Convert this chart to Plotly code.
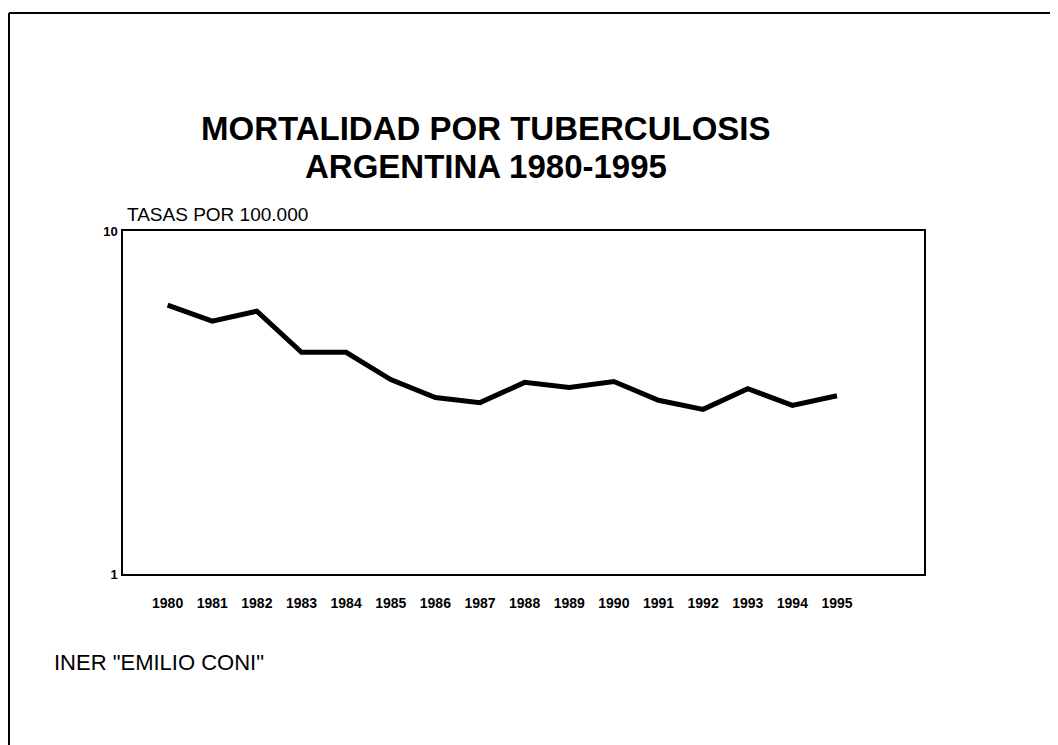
import plotly.graph_objects as go

years = [1980, 1981, 1982, 1983, 1984, 1985, 1986, 1987, 1988, 1989, 1990, 1991, 1992, 1993, 1994, 1995]
rates = [6.08, 5.46, 5.84, 4.43, 4.43, 3.69, 3.27, 3.16, 3.62, 3.50, 3.64, 3.21, 3.02, 3.47, 3.10, 3.31]
y_ticks = [1, 10]
y_tick_text = ["1", "10"]
title_lines = ["MORTALIDAD POR TUBERCULOSIS", "ARGENTINA 1980-1995"]
y_unit = "TASAS POR 100.000"
source = 'INER "EMILIO CONI"'

OFF = 8  # page body margin
W, H = 1050, 737
L, R, T, B = 123 - OFF, 924 - OFF, 231 - OFF, 574 - OFF

def px(x):
    return (x - OFF - L) / (R - L)

def py(y):
    return (B - (y - OFF)) / (B - T)

fig = go.Figure()
fig.add_trace(go.Scatter(x=years, y=rates, mode="lines",
                         line=dict(color="black", width=5), showlegend=False))

font = "Liberation Sans, Arial, sans-serif"

fig.update_layout(
    width=W, height=H,
    margin=dict(l=L, r=W - R, t=T, b=H - B, pad=0),
    paper_bgcolor="white", plot_bgcolor="white",
    font=dict(family=font, color="black"),
    xaxis=dict(range=[1979.0, 1996.95], tickvals=years, ticktext=[str(y) for y in years],
               tickfont=dict(size=14, family=font, weight="bold"),
               showgrid=False, zeroline=False, showline=True, linecolor="black",
               linewidth=1.5, mirror=True, ticks="", ticklabelstandoff=15),
    yaxis=dict(type="log", range=[0, 1], tickvals=y_ticks, ticktext=y_tick_text,
               tickfont=dict(size=13, family=font, weight="bold"),
               showgrid=False, zeroline=False, showline=True, linecolor="black",
               linewidth=1.5, mirror=True, ticks="", ticklabelstandoff=1),
    annotations=[
        dict(text="<b>" + title_lines[0] + "</b>",
             x=px(486), y=py(129), xref="paper", yref="paper", showarrow=False,
             xanchor="center", yanchor="middle", font=dict(size=33, family=font)),
        dict(text="<b>" + title_lines[1] + "</b>",
             x=px(486), y=py(167), xref="paper", yref="paper", showarrow=False,
             xanchor="center", yanchor="middle", font=dict(size=33, family=font)),
        dict(text=y_unit, x=px(125), y=py(214), xref="paper", yref="paper",
             showarrow=False, xanchor="left", yanchor="middle",
             font=dict(size=19, family=font)),
        dict(text=source, x=px(52), y=py(662), xref="paper", yref="paper",
             showarrow=False, xanchor="left", yanchor="middle",
             font=dict(size=22, family=font)),
    ],
    shapes=[
        dict(type="line", xref="paper", yref="paper", x0=px(9), x1=px(1070),
             y0=py(13), y1=py(13), line=dict(color="black", width=2)),
        dict(type="line", xref="paper", yref="paper", x0=px(9), x1=px(9),
             y0=py(13), y1=py(760), line=dict(color="black", width=2)),
    ],
)

fig.write_html("out.html")
